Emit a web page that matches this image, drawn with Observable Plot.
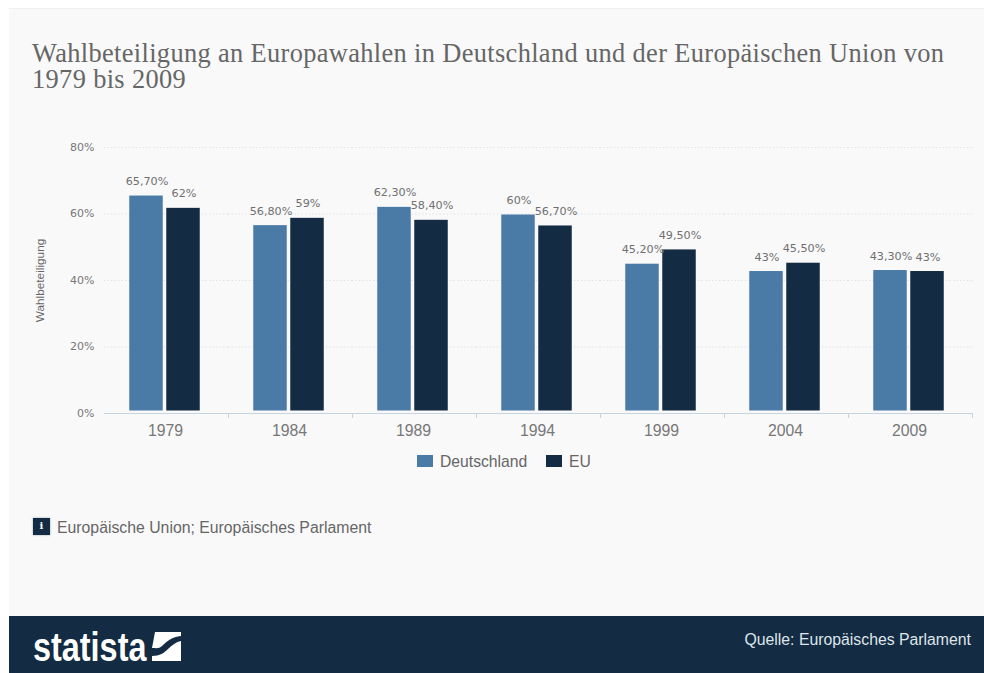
<!DOCTYPE html>
<html lang="de">
<head>
<meta charset="utf-8">
<title>Wahlbeteiligung an Europawahlen</title>
<script src="https://cdn.jsdelivr.net/npm/d3@7"></script>
<script src="https://cdn.jsdelivr.net/npm/@observablehq/plot@0.6"></script>
<style>
  html, body { margin: 0; padding: 0; background: #fff; }
  #page { position: relative; width: 984px; height: 673px; overflow: hidden; font-family: "Liberation Sans", Arial, sans-serif; }
  #panel { position: absolute; left: 9px; top: 8px; right: 0; height: 608px; background: #f9f9fa; border-top: 1px solid #efefef; box-sizing: border-box; }
  #title { position: absolute; left: 32px; top: 41px; width: 940px; margin: 0; font: normal 26.4px/25.5px "Liberation Serif", Georgia, serif; color: #666; letter-spacing: 0.35px; }
  #chart { position: absolute; left: 0; top: 130px; }
  #legend { position: absolute; top: 453px; left: 417px; height: 18px; font-size: 15.7px; color: #666; }
  #legend span { position: absolute; top: 0; white-space: nowrap; line-height: 18px; }
  #legend i { position: absolute; top: 2px; width: 16px; height: 12px; }
  #note { position: absolute; left: 57px; top: 519px; font-size: 15.8px; line-height: 18px; color: #666; white-space: nowrap; }
  #icon { position: absolute; left: 33px; top: 518px; width: 17px; height: 17px; background: #132b43; color: #fff; font: bold 10px/16px "DejaVu Serif", serif; text-align: center; box-shadow: 0 0 2px #9aa7b3; }
  #footer { position: absolute; left: 9px; right: 0; top: 616px; height: 57px; background: #132b43; }
  #brand { position: absolute; left: 33px; top: 625px; font: bold 40px/44px "Liberation Sans", sans-serif; color: #fff; transform-origin: left center; transform: scaleX(0.81); white-space: nowrap; }
  #mark { position: absolute; left: 152px; top: 632px; }
  #source { position: absolute; right: 13px; top: 631px; font-size: 15.8px; line-height: 18px; color: #dfe5ea; white-space: nowrap; }
</style>
</head>
<body>
<div id="page">
  <div id="panel"></div>
  <h1 id="title">Wahlbeteiligung an Europawahlen in Deutschland und der Europäischen Union von<br>1979 bis 2009</h1>
  <div id="chart"></div>
  <div id="legend"></div>
  <div id="icon">i</div>
  <div id="note">Europäische Union; Europäisches Parlament</div>
  <div id="footer"></div>
  <div id="brand">statista</div>
  <svg id="mark" width="30" height="29" viewBox="0 0 30 29">
    <path fill="#fff" d="M3 0H29V4C20 5 15 9 10 14 7 17 4 16 0 16Z"/>
    <path fill="#fff" d="M0 24C8 24 12 21 16 17 20 13 24 10 29 9V29H0Z"/>
  </svg>
  <div id="source">Quelle: Europäisches Parlament</div>
</div>
<script>
// Wahlbeteiligung in Prozent je Wahljahr
const years = ["1979", "1984", "1989", "1994", "1999", "2004", "2009"];
const seriesNames = ["Deutschland", "EU"];
const deutschland = [65.7, 56.8, 62.3, 60, 45.2, 43, 43.3];
const eu = [62, 59, 58.4, 56.7, 49.5, 45.5, 43];
const seriesColors = ["#4a7ba6", "#132b43"];
const yTicks = [0, 20, 40, 60, 80];

const rows = years.flatMap((year, i) => [
  {year, series: seriesNames[0], value: deutschland[i]},
  {year, series: seriesNames[1], value: eu[i]}
]);

// Werte mit deutschem Dezimalkomma, ganze Zahlen ohne Nachkommastellen
const formatValue = (v) =>
  Number.isInteger(v) ? `${v}%` : `${v.toFixed(2).replace(".", ",")}%`;

const bandWidth = (984 - 104 - 12) / years.length;

const chart = Plot.plot({
  width: 984,
  height: 315,
  marginTop: 17,
  marginBottom: 32,
  marginLeft: 104,
  marginRight: 12,
  style: {background: "transparent", fontFamily: "'Liberation Sans', Arial, sans-serif", overflow: "visible"},
  fx: {domain: years, padding: 0, label: null, round: false},
  x: {domain: seriesNames, paddingInner: 0.095, paddingOuter: 0.723, round: false, axis: null},
  y: {domain: [0, 80], axis: null},
  color: {domain: seriesNames, range: seriesColors},
  marks: [
    Plot.ruleY(yTicks.slice(1), {stroke: "#dfe3e6", strokeWidth: 1, strokeDasharray: "1.5,2"}),
    Plot.ruleY([0], {stroke: "#c6d4e0", strokeWidth: 1.2}),
    Plot.barY(rows, {fx: "year", x: "series", y: "value", fill: "series", dx: -1.5, dy: 1, insetBottom: 3.5}),
    Plot.text(rows, {
      fx: "year", x: "series", y: "value",
      text: (d) => formatValue(d.value),
      dx: -1,
      dy: -13.5,
      fontSize: 11.2,
      fontFamily: "'DejaVu Sans', sans-serif",
      fill: "#707070"
    }),
    Plot.axisY({
      ticks: yTicks,
      tickFormat: (d) => `${d}%`,
      tickSize: 0,
      tickPadding: 10,
      dy: -0.5,
      fontSize: 11,
      fontFamily: "'DejaVu Sans', sans-serif",
      color: "#777",
      label: null
    }),
    Plot.axisY({
      ticks: [],
      label: "Wahlbeteiligung",
      labelAnchor: "center",
      labelArrow: "none",
      labelOffset: 69,
      tickSize: 0,
      fontSize: 11.8,
      color: "#666"
    }),
    Plot.axisFx({
      anchor: "bottom",
      tickSize: 0,
      tickPadding: 11,
      dx: -1,
      fontSize: 15.8,
      color: "#777",
      label: null
    }),
    // Trennstriche an den rechten Kanten der Jahresgruppen
    Plot.axisFx({
      anchor: "bottom",
      tickSize: 5,
      text: null,
      stroke: "#c6d4e0",
      dx: bandWidth / 2,
      label: null
    })
  ]
});
document.getElementById("chart").append(chart);

// Legende aus denselben Reihen und Farben
const legend = document.getElementById("legend");
const swatchOffsets = [0, 129];
seriesNames.forEach((name, i) => {
  const swatch = document.createElement("i");
  swatch.style.left = `${swatchOffsets[i]}px`;
  swatch.style.background = seriesColors[i];
  const label = document.createElement("span");
  label.style.left = `${swatchOffsets[i] + 23}px`;
  label.textContent = name;
  legend.append(swatch, label);
});
</script>
</body>
</html>
